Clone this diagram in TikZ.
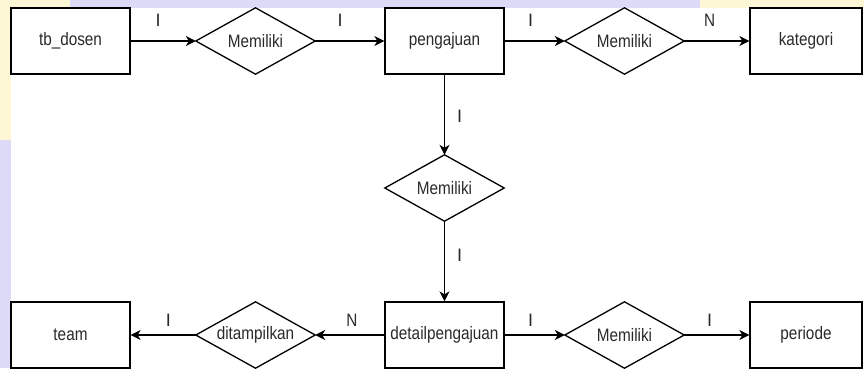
\documentclass[tikz,border=0pt]{standalone}
\usepackage{fontspec}
\setmainfont{Liberation Sans}
\usetikzlibrary{arrows.meta}
\definecolor{txt}{HTML}{2A2A2A}
\definecolor{lav}{HTML}{DCDAF6}
\definecolor{yel}{HTML}{FDF7D6}
\newcommand{\nar}[1]{\scalebox{0.85}[1]{#1}}
\tikzset{
  ent/.style={draw=black, line width=1.3pt, minimum width=119pt, minimum height=66pt, inner sep=0pt, font=\fontsize{18}{21}\selectfont, text=txt},
  rel/.style={draw=none, minimum width=119pt, minimum height=66pt, inner sep=0pt, font=\fontsize{18}{21}\selectfont, text=txt},
  conn/.style={line width=1.3pt, -{Stealth[length=10pt, width=10pt, inset=3pt]}},
  card/.style={font=\fontsize{18}{21}\selectfont, text=txt, inner sep=0pt}
}
\begin{document}
\begin{tikzpicture}[x=1pt, y=-1pt]
\useasboundingbox (0,0) rectangle (864,368);
% watermark margins
\fill[yel] (0,0) rectangle (864,368);
\fill[lav] (70,0) rectangle (700,8);
\fill[lav] (0,140) rectangle (11,368);
\fill[white] (11,8) rectangle (864,368);
% entities
\node[ent] (dosen) at (70.5,41) {\nar{tb\_dosen}};
\node[ent] (peng) at (444.5,41) {\nar{pengajuan}};
\node[ent, minimum width=112pt] (kat) at (806,41) {\nar{kategori}};
\node[ent] (team) at (70.5,335) {\nar{team}};
\node[ent] (detail) at (444.5,335) {\nar{detailpengajuan}};
\node[ent, minimum width=112pt] (per) at (806,335) {\nar{periode}};
% relationships
\node[rel] (r1) at (255.5,41) {\nar{Memiliki}};
\node[rel] (r2) at (624.5,41) {\nar{Memiliki}};
\node[rel] (r3) at (444.5,188) {\nar{Memiliki}};
\node[rel] (r4) at (255.5,335) {\nar{ditampilkan}};
\node[rel] (r5) at (624.5,335) {\nar{Memiliki}};
\foreach \r in {r1,r2,r3,r4,r5}
  \draw[line width=1.3pt, line join=miter] (\r.north) -- (\r.east) -- (\r.south) -- (\r.west) -- cycle;
% connectors
\draw[conn] (dosen.east) -- node[card, pos=0.42, yshift=21pt] {I} (r1.west);
\draw[conn] (r1.east) -- node[card, pos=0.36, yshift=21pt] {I} (peng.west);
\draw[conn] (peng.east) -- node[card, pos=0.43, yshift=21pt] {I} (r2.west);
\draw[conn] (r2.east) -- node[card, pos=0.39, yshift=21pt] {\nar{N}} (kat.west);
\draw[conn] (peng.south) -- node[card, pos=0.52, xshift=15pt] {I} (r3.north);
\draw[conn] (r3.south) -- node[card, pos=0.43, xshift=15pt] {I} (detail.north);
\draw[conn] (detail.west) -- node[card, pos=0.47, yshift=15pt] {\nar{N}} (r4.east);
\draw[conn] (r4.west) -- node[card, pos=0.42, yshift=15pt] {I} (team.east);
\draw[conn] (detail.east) -- node[card, pos=0.43, yshift=15pt] {I} (r5.west);
\draw[conn] (r5.east) -- node[card, pos=0.39, yshift=15pt] {I} (per.west);
\end{tikzpicture}
\end{document}
